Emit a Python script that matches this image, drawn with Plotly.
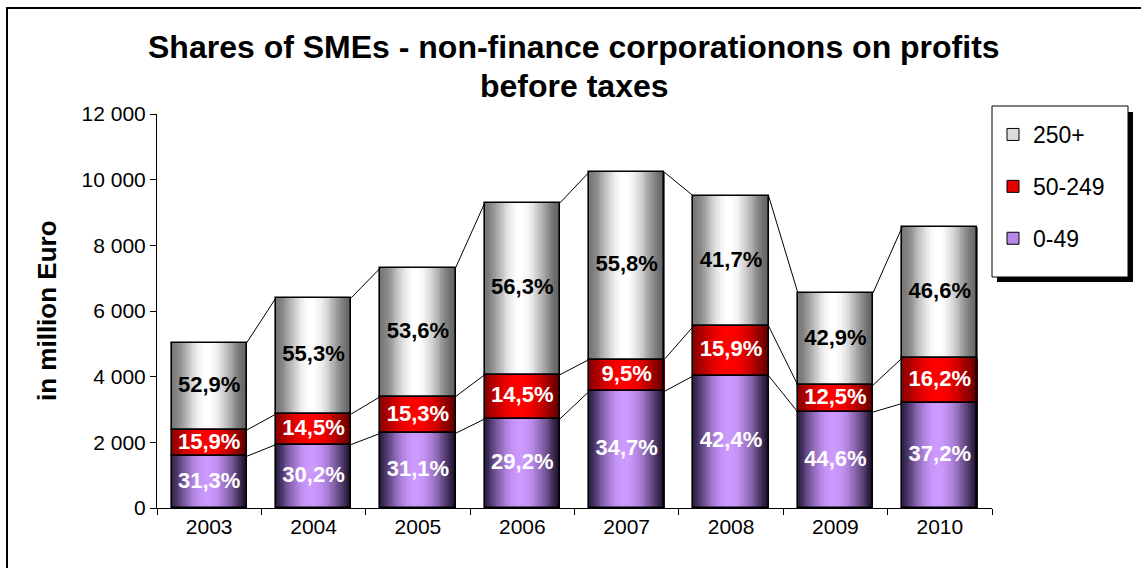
import plotly.graph_objects as go

# Profits before taxes, in million Euro, and the share of each size class (%)
years = ["2003", "2004", "2005", "2006", "2007", "2008", "2009", "2010"]
totals = [5030, 6400, 7310, 9290, 10230, 9500, 6550, 8560]
share_0_49 = [31.3, 30.2, 31.1, 29.2, 34.7, 42.4, 44.6, 37.2]
share_50_249 = [15.9, 14.5, 15.3, 14.5, 9.5, 15.9, 12.5, 16.2]
share_250 = [52.9, 55.3, 53.6, 56.3, 55.8, 41.7, 42.9, 46.6]

series_names = ["0-49", "50-249", "250+"]
series_shares = [share_0_49, share_50_249, share_250]

# gradient colours per series: left edge, centre, right edge, falloff
left_cols = [(45, 30, 70), (140, 0, 0), (120, 120, 120)]
centre_cols = [(204, 153, 255), (255, 0, 0), (255, 255, 255)]
right_cols = [(25, 15, 40), (95, 0, 0), (100, 100, 100)]
falloff = [1.3, 1.3, 1.9]
swatch_cols = ["#b48ae6", "#e60000", "#dcdcdc"]
label_cols = ["white", "white", "black"]

FONT = "Liberation Sans"
x_pos = list(range(len(years)))
BAR_W = 0.72
N_SLICES = 40

# segment sizes and bases (million Euro)
seg_vals = [[t * s / 100 for t, s in zip(totals, sh)] for sh in series_shares]
bases = []
running = [0.0] * len(years)
for vals in seg_vals:
    bases.append(list(running))
    running = [r + v for r, v in zip(running, vals)]


def mix(c0, c1, f):
    return "rgb({},{},{})".format(*[round(a + (b - a) * f) for a, b in zip(c0, c1)])


def shade(si, t, c=0.47):
    edge = left_cols[si] if t < c else right_cols[si]
    d = c if t < c else 1 - c
    v = max(0.0, 1 - ((t - c) / d) ** 2) ** falloff[si]
    return mix(edge, centre_cols[si], v)


fig = go.Figure()

# gradient fill: every segment is painted as thin vertical slices
for si, vals in enumerate(seg_vals):
    for k in range(N_SLICES):
        t = (k + 0.5) / N_SLICES
        sw = BAR_W / N_SLICES
        fig.add_trace(go.Bar(
            x=x_pos, y=vals, base=bases[si],
            width=sw * 1.15, offset=-BAR_W / 2 + k * sw,
            marker=dict(color=shade(si, t), line=dict(width=0)),
            showlegend=False, hoverinfo="skip",
        ))

# black outlines of the segments
for si, vals in enumerate(seg_vals):
    fig.add_trace(go.Bar(
        x=x_pos, y=vals, base=bases[si], width=BAR_W,
        marker=dict(color="rgba(0,0,0,0)", line=dict(color="black", width=1.6)),
        showlegend=False, hoverinfo="skip",
    ))

# series lines joining the segment tops of neighbouring bars
levels = []
running = [0.0] * len(years)
for vals in seg_vals:
    running = [r + v for r, v in zip(running, vals)]
    levels.append(list(running))
for lv in levels:
    lx, ly = [], []
    for i in range(len(years) - 1):
        lx += [x_pos[i] + BAR_W / 2, x_pos[i + 1] - BAR_W / 2, None]
        ly += [lv[i], lv[i + 1], None]
    fig.add_trace(go.Scatter(x=lx, y=ly, mode="lines",
                             line=dict(color="black", width=1),
                             showlegend=False, hoverinfo="skip"))

# percentage labels in the middle of each segment
for si, vals in enumerate(seg_vals):
    fig.add_trace(go.Scatter(
        x=x_pos, y=[b + v / 2 for b, v in zip(bases[si], vals)],
        mode="text",
        text=[f"{s:.1f}%".replace(".", ",") for s in series_shares[si]],
        textfont=dict(family=FONT, size=22, color=label_cols[si], weight="bold"),
        showlegend=False, hoverinfo="skip",
    ))

# legend entries, top to bottom: 250+, 50-249, 0-49
for si in [2, 1, 0]:
    fig.add_trace(go.Bar(
        x=[None], y=[None], name=series_names[si],
        marker=dict(color=swatch_cols[si], line=dict(color="black", width=1)),
        legendgroup=series_names[si], legendrank=3 - si,
    ))

L, R, T, B = 157, 149, 114, 60
PW, PH = 1141 - L - R, 568 - T - B


def px(x):
    return (x - L) / PW


def py(y):
    return (568 - B - y) / PH


shapes = [
    # frame of the chart (top and left edges)
    dict(type="line", xref="paper", yref="paper", x0=px(6), x1=px(1141),
         y0=py(8), y1=py(8), line=dict(color="black", width=2)),
    dict(type="line", xref="paper", yref="paper", x0=px(7), x1=px(7),
         y0=py(8), y1=py(568), line=dict(color="black", width=2)),
    # legend shadow and box
    dict(type="rect", xref="paper", yref="paper", x0=px(997), x1=px(1133),
         y0=py(282), y1=py(112), fillcolor="black", line=dict(width=0), layer="below"),
    dict(type="rect", xref="paper", yref="paper", x0=px(992), x1=px(1128),
         y0=py(277), y1=py(106), fillcolor="white",
         line=dict(color="black", width=1), layer="below"),
]

annotations = [
    dict(text="Shares of SMEs - non-finance corporationons on profits",
         xref="paper", yref="paper", x=px(574), y=py(47), showarrow=False,
         xanchor="center", yanchor="middle",
         font=dict(family=FONT, size=32, color="black", weight="bold")),
    dict(text="before taxes",
         xref="paper", yref="paper", x=px(574), y=py(86), showarrow=False,
         xanchor="center", yanchor="middle",
         font=dict(family=FONT, size=32, color="black", weight="bold")),
    dict(text="in million Euro", textangle=-90,
         xref="paper", yref="paper", x=px(47), y=py(310), showarrow=False,
         xanchor="center", yanchor="middle",
         font=dict(family=FONT, size=26, color="black", weight="bold")),
]

fig.update_layout(
    width=1141, height=568,
    margin=dict(l=L, r=R, t=T, b=B, pad=0),
    paper_bgcolor="white", plot_bgcolor="white",
    barmode="overlay", bargap=0,
    separators=", ",
    font=dict(family=FONT, size=21, color="black"),
    showlegend=True,
    legend=dict(x=px(993), y=py(113), xanchor="left", yanchor="top",
                bgcolor="rgba(0,0,0,0)", borderwidth=0,
                font=dict(family=FONT, size=23, color="black"),
                tracegroupgap=19, traceorder="grouped"),
    xaxis=dict(range=[-0.5, len(years) - 0.5], tickmode="array",
               tickvals=x_pos, ticktext=years, ticks="",
               showline=True, linecolor="black", linewidth=1,
               showgrid=False, zeroline=False,
               tickfont=dict(family=FONT, size=21),
               minor=dict(ticks="outside", tick0=-0.5, dtick=1, ticklen=6,
                          tickcolor="black", tickwidth=1, showgrid=False)),
    yaxis=dict(range=[0, 12000], dtick=2000, tick0=0,
               separatethousands=True, tickformat=",d",
               ticks="outside", ticklen=6, tickcolor="black", tickwidth=1,
               showline=True, linecolor="black", linewidth=1,
               showgrid=False, zeroline=False,
               tickfont=dict(family=FONT, size=21)),
    shapes=shapes, annotations=annotations,
)

fig.write_html("out.html")
